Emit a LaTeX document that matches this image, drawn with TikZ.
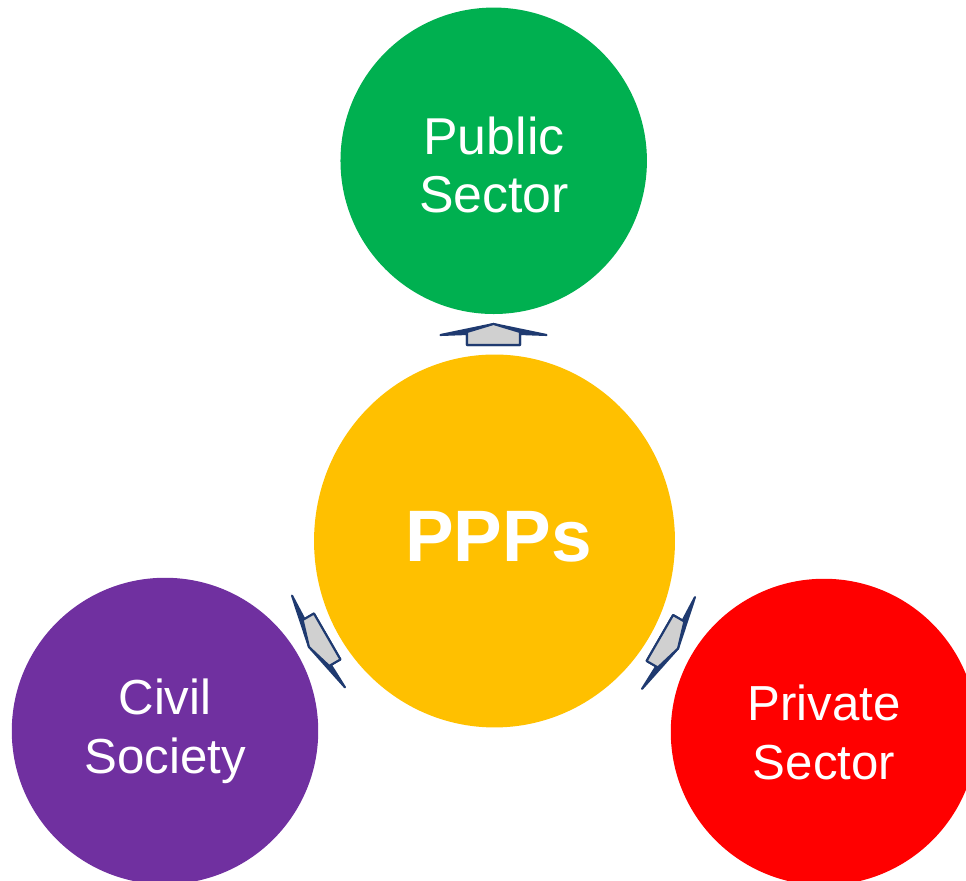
\documentclass[tikz,border=0pt]{standalone}
\usepackage{fontspec}
\setmainfont{Liberation Sans}
\usetikzlibrary{shapes.geometric}
\definecolor{pubgreen}{HTML}{00B050}
\definecolor{pppyellow}{HTML}{FFC000}
\definecolor{civpurple}{HTML}{7030A0}
\definecolor{privred}{HTML}{FF0000}
\definecolor{arrownavy}{HTML}{1F3A70}
\definecolor{arrowgrey}{HTML}{D0D0D0}

\begin{document}
\begin{tikzpicture}[x = 0.02cm, y = 0.02cm,
		sector/.style = {circle, inner sep=0pt, minimum size=6.13cm, text=white, align=center, font=\fontsize{28}{33.5}\selectfont},
		hub/.style = {ellipse, inner sep=0pt, minimum width=7.22cm, minimum height=7.46cm},
		wing/.style = {fill = arrownavy, draw = arrownavy, line width=1.2pt, line join=round},
		body/.style = {fill = arrowgrey, draw = arrownavy, line width=1.2pt, line join=round}]
	\useasboundingbox (0,0) rectangle (966,881);
	\node[hub, fill = pppyellow] (ppp) at (494.5,340) {};
	\node[text=white, font=\fontsize{41.5}{48}\selectfont\bfseries] (ppptext) at (498.5,344) {PPPs};
	\node[sector, fill = pubgreen] (pub) at (493.7,720.2) {};
	\node[text=white, align=center, font=\fontsize{29.5}{33.5}\selectfont] (pubtext) at (494,716) {Public\\Sector};
	\node[sector, fill = civpurple] (civ) at (165,150) {Civil\\Society};
	\node[sector, fill = privred] (priv) at (824,149) {Private\\Sector};
	\coordinate (a1) at (493.5,546);
	\coordinate (a2) at (318.5,239.5);
	\coordinate (a3) at (668.5,238);
	\foreach \c/\ang in {a1/90, a2/210, a3/-30}
	{
		\begin{scope}[shift = {(\c)}, rotate = \ang]
			\draw[wing] (11,0) -- (0,53) -- (1,26.5) -- (-10,26.5) -- (-10,-26.5) -- (1,-26.5) -- (0,-53) -- cycle;
			\draw[body] (11,0) -- (3,26.5) -- (-10,26.5) -- (-10,-26.5) -- (3,-26.5) -- cycle;
		\end{scope}
	}
\end{tikzpicture}
\end{document}
